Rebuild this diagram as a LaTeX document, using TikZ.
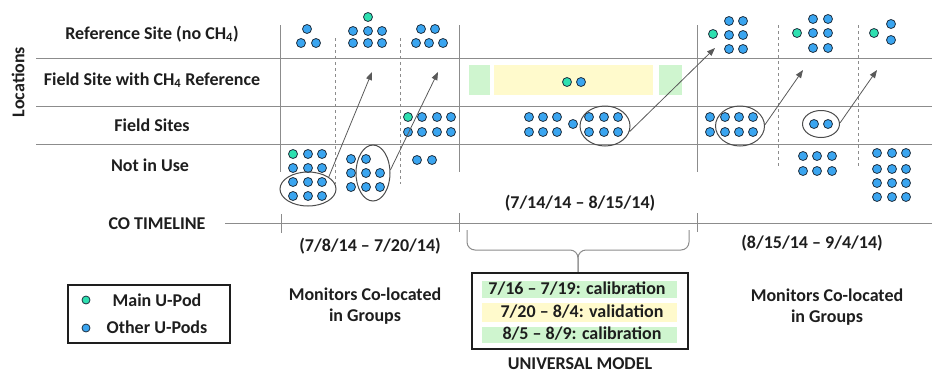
\documentclass[tikz,border=0pt]{standalone}
\usepackage{fontspec}
\setmainfont{Carlito}
\usetikzlibrary{shapes.geometric,arrows.meta}
\definecolor{linegray}{HTML}{8C8C8C}
\definecolor{inkgray}{HTML}{1E1E1E}
\definecolor{podmain}{HTML}{2EE0B0}
\definecolor{podother}{HTML}{3AA5F0}
\definecolor{podedge}{HTML}{1F2F3F}
\definecolor{calgreen}{HTML}{CFF5CF}
\definecolor{valyellow}{HTML}{FFFACC}
\tikzstyle{every node}=[font=\bfseries\fontsize{18}{21}\selectfont, text=inkgray]
\tikzstyle{grid}=[linegray, line width=1pt]
\tikzstyle{period}=[linegray, line width=1pt, dashed]
\tikzstyle{mainpod}=[draw=podedge, fill=podmain, line width=0.8pt]
\tikzstyle{otherpod}=[draw=podedge, fill=podother, line width=0.8pt]
\tikzstyle{group}=[draw=black!70, ellipse, line width=1pt, inner sep=0pt]
\tikzstyle{move}=[black!65, line width=0.8pt, -{Triangle[length=8pt,width=6pt]}]

\begin{document}
\begin{tikzpicture}[x = 1pt, y = -1pt]
\useasboundingbox (0,0) rectangle (936,372);
% Rows
    \draw[grid] (36,58) -- (932,58);
    \draw[grid] (36,106) -- (932,106);
    \draw[grid] (36,144) -- (932,144);
    \node[rotate=90] (locations) at (18,82) {Locations};
    \node (refsite) at (152,34) {Reference Site (no CH\textsubscript{4})};
    \node (ch4site) at (152,80) {Field Site with CH\textsubscript{4} Reference};
    \node (fieldsites) at (152,125) {Field Sites};
    \node (notinuse) at (150,165) {Not in Use};
% Periods
    \draw[grid] (280,25) -- (280,172);
    \draw[grid] (459,25) -- (459,172);
    \draw[grid] (697,25) -- (697,172);
    \draw[period] (335,38) -- (335,184);
    \draw[period] (400,38) -- (400,184);
    \draw[period] (778,25) -- (778,168);
    \draw[period] (858,25) -- (858,168);
% Universal model at the CH4 site
    \fill[calgreen] (469,65) rectangle (490,95);
    \fill[valyellow] (494,65) rectangle (653,95);
    \fill[calgreen] (659,65) rectangle (682,95);
% U-Pods at the reference site
    \foreach \x/\y in {307/29, 301/43, 316/43, 353/31, 368/31, 382/31, 353/43, 368/43, 382/43,
                       421/29, 435/29, 416/43, 429/43, 443/43,
                       729/21, 743/21, 729/35, 743/35, 729/49, 743/49,
                       813/19, 828/19, 813/33, 828/33, 813/48, 828/48, 891/24, 891/40}
        \filldraw[otherpod] (\x,\y) circle (4.5);
    \foreach \x/\y in {368/17, 713/34, 797/33, 874/33}
        \filldraw[mainpod] (\x,\y) circle (4.5);
% U-Pods at the CH4 site
    \filldraw[mainpod] (567,82) circle (4.5);
    \filldraw[otherpod] (581,82) circle (4.5);
% U-Pods at the field sites
    \filldraw[mainpod] (408,117) circle (4.5);
    \foreach \x/\y in {422/117, 437/117, 451/117, 408/132, 422/132, 437/132, 451/132, 573/124, 814/124, 828/124}
        \filldraw[otherpod] (\x,\y) circle (4.5);
    \foreach \x in {529, 543, 557, 589, 604, 618, 710, 725, 739, 753}
        \foreach \y in {117, 132}
            \filldraw[otherpod] (\x,\y) circle (4.5);
% U-Pods not in use
    \filldraw[mainpod] (293,154) circle (4.5);
    \foreach \x/\y in {308/154, 322/154, 351/159, 366/159, 417/160, 432/160}
        \filldraw[otherpod] (\x,\y) circle (4.5);
    \foreach \x in {293, 308, 322}
        \foreach \y in {168, 182, 196}
            \filldraw[otherpod] (\x,\y) circle (4.5);
    \foreach \x in {351, 366, 380}
        \foreach \y in {173, 187}
            \filldraw[otherpod] (\x,\y) circle (4.5);
    \foreach \x in {803, 817, 832}
        \foreach \y in {156, 171}
            \filldraw[otherpod] (\x,\y) circle (4.5);
    \foreach \x in {877, 892, 906}
        \foreach \y in {153, 169, 183, 197}
            \filldraw[otherpod] (\x,\y) circle (4.5);
% Moved groups
    \node[group, minimum width=56, minimum height=34] (groupA) at (308,189) {};
    \node[group, minimum width=34, minimum height=56] (groupB) at (373,173) {};
    \node[group, minimum width=50, minimum height=40] (groupC) at (605,126) {};
    \node[group, minimum width=49, minimum height=40] (groupD) at (740,126) {};
    \node[group, minimum width=37, minimum height=27] (groupE) at (821,124) {};
    \coordinate (toA) at (372,72);
    \coordinate (toB) at (438,72);
    \coordinate (toC) at (715,48);
    \coordinate (toD) at (803,70);
    \coordinate (toE) at (877,70);
    \draw[move] (groupA.30) -- (toA);
    \draw[move] (groupB.10) -- (toB);
    \draw[move] (groupC.-13) -- (toC);
    \draw[move] (groupD.3) -- (toD);
    \draw[move] (groupE.3) -- (toE);
% Timeline
    \node (timeline) at (157,224) {CO TIMELINE};
    \draw[grid] (225,223) -- (932,223);
    \draw[grid] (281,214) -- (281,233);
    \draw[grid] (459,213) -- (459,232);
    \draw[grid] (697,213) -- (697,232);
    \node (dates1) at (370,246) {(7/8/14 – 7/20/14)};
    \node (dates2) at (580,203) {(7/14/14 – 8/15/14)};
    \node (dates3) at (812,243) {(8/15/14 – 9/4/14)};
    \node[align=center] (colocA) at (365,306) {Monitors Co-located\\in Groups};
    \node[align=center] (colocB) at (827,307) {Monitors Co-located\\in Groups};
% Universal model
    \draw[grid, rounded corners=8] (467,230) -- (467,250) -- (578,250) -- (578,273);
    \draw[grid, rounded corners=8] (689,230) -- (689,250) -- (578,250) -- (578,273);
    \fill[calgreen] (482,281) rectangle (677,298);
    \fill[valyellow] (482,303) rectangle (677,322);
    \fill[calgreen] (482,327) rectangle (677,343);
    \draw[inkgray, line width=1.2pt] (472,273) rectangle (688,349);
    \node (cal1) at (577,289) {7/16 – 7/19: calibration};
    \node (valid) at (582,312) {7/20 – 8/4: validation};
    \node (cal2) at (582,334) {8/5 – 8/9: calibration};
    \node[anchor=base, inner sep=0pt] (universal) at (580,369) {UNIVERSAL MODEL};
% Legend
    \draw[inkgray, line width=1.2pt] (68,285) rectangle (230,343);
    \filldraw[mainpod] (86,300) circle (4);
    \filldraw[otherpod] (86,328) circle (4);
    \node (mainlbl) at (157,300) {Main U-Pod};
    \node (otherlbl) at (157,327) {Other U-Pods};
\end{tikzpicture}
\end{document}
